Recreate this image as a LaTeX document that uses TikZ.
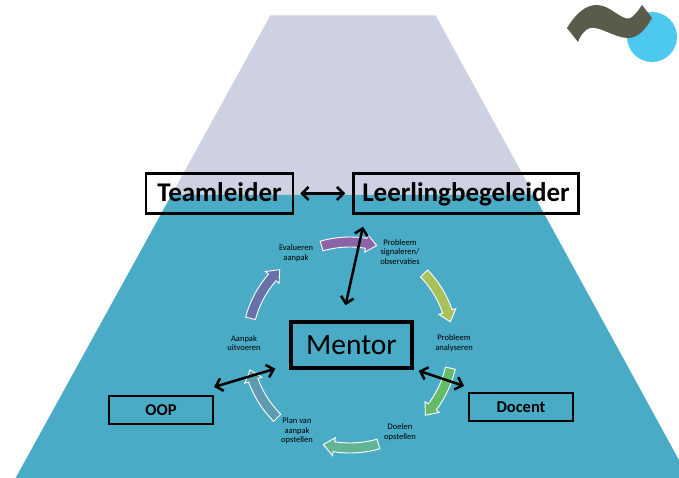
\documentclass[tikz,border=0pt]{standalone}
\usepackage{fontspec}
\setmainfont{Carlito}
\usetikzlibrary{arrows.meta}
\definecolor{topgrey}{HTML}{CDD1E1}
\definecolor{teal}{HTML}{4AABC6}
\definecolor{dot}{HTML}{4DC8EE}
\definecolor{squiggle}{HTML}{5A5B4B}
\definecolor{steppurple}{HTML}{8C63A6}
\definecolor{stepolive}{HTML}{A8C15A}
\definecolor{stepgreen}{HTML}{66BB6A}
\definecolor{stepsea}{HTML}{62B495}
\definecolor{stepslate}{HTML}{5F9BB0}
\definecolor{stepblue}{HTML}{6871A8}
\tikzset{
    bigbox/.style={draw, line width=2.5pt, inner sep=0pt, minimum height=40pt, text height=22pt, text depth=6pt, font=\bfseries\fontsize{27}{27}\selectfont},
    smallbox/.style={draw, line width=2pt, inner sep=0pt, minimum width=104pt, minimum height=28pt, font=\bfseries\fontsize{16.5}{16.5}\selectfont},
    steplabel/.style={align=center, inner sep=0pt, font=\fontsize{8.5}{9.5}\selectfont},
    link/.style={{Straight Barb[length=6.5pt,width=13pt]}-{Straight Barb[length=6.5pt,width=13pt]}, line width=2.5pt},
    cyclearrow/.style={draw=white, line width=0.9pt, line join=miter}
}
% #1 start angle, #2 end angle, #3 colour
\newcommand{\cyclearc}[3]{
    \pgfmathsetmacro{\headbase}{#2+6*sign(#1-#2)}
    \draw[cyclearrow, fill=#3]
        ([shift={(#1:108)}]centre) arc[start angle=#1, end angle=\headbase, radius=108]
        -- ([shift={(\headbase:112)}]centre) -- ([shift={(#2:103)}]centre)
        -- ([shift={(\headbase:94)}]centre) -- ([shift={(\headbase:98)}]centre)
        arc[start angle=\headbase, end angle=#1, radius=98] -- cycle;
}
\begin{document}
\begin{tikzpicture}[x=1pt, y=1pt]
\useasboundingbox (0,0) rectangle (679,478);
\coordinate (centre) at (350,133);

\fill[topgrey] (270,463) -- (436,463) -- (534.5,283) -- (171,283) -- cycle;
\fill[teal] (171,283) -- (534.5,283) -- (679,19) -- (679,0) -- (15,0) -- cycle;
\draw[white, line width=0.8pt] (15,0) -- (270,463) -- (436,463) -- (679,19);

\fill[dot] (652,441) circle (25);
\fill[squiggle] (567,450) .. controls (578,468) and (590,476) .. (603,472)
    .. controls (615,468) and (625,455) .. (632,461) .. controls (636,464) and (640,470) .. (642,473)
    -- (652,460) .. controls (645,448) and (638,440) .. (628,440)
    .. controls (615,440) and (600,452) .. (590,450) .. controls (585,449) and (580,442) .. (578,436) -- cycle;

\cyclearc{106}{75}{steppurple}
\cyclearc{44}{13}{stepolive}
\cyclearc{-13}{-43}{stepgreen}
\cyclearc{-74}{-105}{stepsea}
\cyclearc{-135}{-166}{stepslate}
\cyclearc{165}{133}{stepblue}

\node[bigbox, minimum width=147pt] (teamleider) at (219.5,284.5) {Teamleider};
\node[bigbox, minimum width=225pt] (leerling) at (466,284.5) {Leerlingbegeleider};
\node[draw, line width=3.5pt, inner sep=0pt, minimum width=121pt, minimum height=46pt, font=\fontsize{29.5}{29.5}\selectfont] (mentor) at (351.5,133) {Mentor};
\node[smallbox] (oop) at (161,68) {OOP};
\node[smallbox] (docent) at (521,71) {Docent};

\node[steplabel] (evalueren) at (296,225) {Evalueren\\aanpak};
\node[steplabel] (signaleren) at (400,226) {Probleem\\signaleren/\\observaties};
\node[steplabel] (analyseren) at (454,135) {Probleem\\analyseren};
\node[steplabel] (doelen) at (400,46) {Doelen\\opstellen};
\node[steplabel] (plan) at (297,47) {Plan van\\aanpak\\opstellen};
\node[steplabel] (uitvoeren) at (244,135) {Aanpak\\uitvoeren};

\draw[link] ([xshift=6pt]teamleider.east) -- ([xshift=-7pt]leerling.west);
\draw[link] ([xshift=-103pt,yshift=-12pt]leerling.south) -- ([xshift=-6pt,yshift=15pt]mentor.north);
\draw[link] ([yshift=8pt]oop.north east) -- ([xshift=-14pt,yshift=1pt]mentor.south west);
\draw[link] ([xshift=-4pt,yshift=6pt]docent.north west) -- ([xshift=5pt,yshift=-1pt]mentor.south east);
\end{tikzpicture}
\end{document}
